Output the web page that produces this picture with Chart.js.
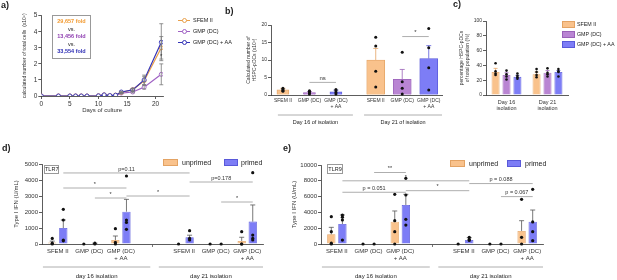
<!DOCTYPE html>
<html>
<head>
<meta charset="utf-8">
<script src="https://cdn.jsdelivr.net/npm/chart.js@4.4.0/dist/chart.umd.min.js"></script>
<style>
  body { margin: 0; background: #fff; font-family: "Liberation Sans", Arial, sans-serif; color: #222; }
  #fig { position: relative; width: 617px; height: 280px; overflow: hidden; }
  #fig canvas { position: absolute; }
  .t { position: absolute; white-space: nowrap; line-height: 1; }
  .panel { font-weight: bold; font-size: 9px; }
  .sw { position: absolute; box-sizing: border-box; border: 1px solid; }
  .ln { position: absolute; height: 1px; width: 12px; }
  .dot { position: absolute; width: 5px; height: 5px; box-sizing: border-box; border: 1px solid; border-radius: 50%; background: #fff; }
  .box { position: absolute; box-sizing: border-box; border: 1px solid #999; text-align: center; }
</style>
</head>
<body>
<div id="fig">
  <canvas id="chartA" width="172" height="124" style="left:0;top:0"></canvas>
  <canvas id="chartB" width="215" height="112" style="left:230px;top:15px"></canvas>
  <canvas id="chartC" width="172" height="105" style="left:445px;top:10px"></canvas>
  <canvas id="chartD" width="290" height="140" style="left:0;top:140px"></canvas>
  <canvas id="chartE" width="332" height="140" style="left:285px;top:140px"></canvas>

  <div class="t panel" style="left:1px;top:1px">a)</div>
  <div class="t panel" style="left:225px;top:7px">b)</div>
  <div class="t panel" style="left:453px;top:0px">c)</div>
  <div class="t panel" style="left:2px;top:144px">d)</div>
  <div class="t panel" style="left:283px;top:144px">e)</div>

  <!-- a) fold box -->
  <div class="box" style="left:52px;top:15px;width:39px;height:44px;font-size:5.5px;line-height:7.6px;padding-top:2px">
    <div style="color:#f29a30;font-weight:bold">29,657 fold</div>
    <div>vs.</div>
    <div style="color:#8e3db0;font-weight:bold">13,456 fold</div>
    <div>vs.</div>
    <div style="color:#2c2cb4;font-weight:bold">33,554 fold</div>
  </div>

  <!-- a) legend -->
  <div class="ln" style="left:178px;top:20px;background:#e9a04b"></div>
  <div class="dot" style="left:181.5px;top:18px;border-color:#e9a04b"></div>
  <div class="t" style="left:193px;top:18px;font-size:5.5px">SFEM II</div>
  <div class="ln" style="left:178px;top:31px;background:#a062c4"></div>
  <div class="dot" style="left:181.5px;top:29px;border-color:#a062c4"></div>
  <div class="t" style="left:193px;top:29px;font-size:5.5px">GMP (DC)</div>
  <div class="ln" style="left:178px;top:42px;background:#3434b8"></div>
  <div class="dot" style="left:181.5px;top:40px;border-color:#3434b8"></div>
  <div class="t" style="left:193px;top:40px;font-size:5.5px">GMP (DC) + AA</div>

  <!-- c) legend -->
  <div class="sw" style="left:562px;top:21px;width:13px;height:7px;background:#f9c28c;border-color:#e3a364"></div>
  <div class="t" style="left:577px;top:22px;font-size:5.3px">SFEM II</div>
  <div class="sw" style="left:562px;top:31px;width:13px;height:7px;background:#b985d3;border-color:#9a62b8"></div>
  <div class="t" style="left:577px;top:32px;font-size:5.3px">GMP (DC)</div>
  <div class="sw" style="left:562px;top:41px;width:13px;height:7px;background:#7d7df6;border-color:#5959d9"></div>
  <div class="t" style="left:577px;top:42px;font-size:5.3px">GMP (DC) + AA</div>

  <!-- d) legend + TLR7 -->
  <div class="sw" style="left:163px;top:159px;width:15px;height:7px;background:#f9c28c;border-color:#e3a364"></div>
  <div class="t" style="left:182px;top:159px;font-size:7px">unprimed</div>
  <div class="sw" style="left:224px;top:159px;width:14px;height:7px;background:#7d7df6;border-color:#5959d9"></div>
  <div class="t" style="left:241px;top:159px;font-size:7px">primed</div>
  <div class="box" style="left:44px;top:165px;width:15px;height:9px;font-size:5.5px;line-height:7px">TLR7</div>

  <!-- e) legend + TLR9 -->
  <div class="sw" style="left:450px;top:160px;width:15px;height:7px;background:#f9c28c;border-color:#e3a364"></div>
  <div class="t" style="left:469px;top:160px;font-size:7px">unprimed</div>
  <div class="sw" style="left:507px;top:160px;width:14px;height:7px;background:#7d7df6;border-color:#5959d9"></div>
  <div class="t" style="left:525px;top:160px;font-size:7px">primed</div>
  <div class="box" style="left:327px;top:164px;width:16px;height:10px;font-size:5.5px;line-height:8px">TLR9</div>
</div>

<script>
// ---- colours
const cOrange = '#f9c28c', cOrangeLine = '#e3a364';
const cPurple = '#b985d3', cPurpleLine = '#9a62b8';
const cBlue = '#7d7df6', cBlueLine = '#5959d9';

// ---- a) expansion curves (x10^6 cells)
const days = [0, 3, 5, 6, 7, 8, 10, 11, 12, 13, 14, 16, 18, 21];
const growthSfem = [0, 0, 0, 0, 0, 0, 0.01, 0.07, 0.03, 0.06, 0.22, 0.4, 0.95, 3.0];
const growthGmp = [0, 0, 0, 0, 0, 0, 0.01, 0.06, 0.02, 0.03, 0.18, 0.25, 0.55, 1.35];
const growthGmpAa = [0, 0, 0, 0, 0, 0, 0.01, 0.07, 0.03, 0.05, 0.25, 0.38, 1.0, 3.35];
const growthErrSfem = [0, 0, 0, 0, 0, 0, 0, 0, 0, 0, 0.03, 0.05, 0.25, 0.7];
const growthErrGmp = [0, 0, 0, 0, 0, 0, 0, 0, 0, 0, 0.03, 0.05, 0.12, 0.65];
const growthErrGmpAa = [0, 0, 0, 0, 0, 0, 0, 0, 0, 0, 0.04, 0.08, 0.3, 1.15];

// ---- b) HSPC-pDC numbers (x10^5)
const mediaLabels = ['SFEM II', 'GMP (DC)', ['GMP (DC)', '+ AA']];
const bPos16 = [1, 2, 3];
const bPos21 = [4.5, 5.5, 6.5];
const bDay16 = [1.5, 0.7, 0.9];
const bDay16Err = [0.4, 0.3, 0.5];
const bDay16Pts = [[1.9, 1.6, 1.3, 1.1], [1.2, 0.9, 0.6, 0.3], [1.6, 1.2, 0.7, 0.3]];
const bDay21 = [10.0, 4.5, 10.4];
const bDay21Err = [3.3, 2.8, 3.7];
const bDay21Pts = [[16.5, 14, 6.8, 2.3], [12.2, 3.8, 1.9, 0.3], [19, 13.5, 7.8, 1.4]];

// ---- c) percentage HSPC-pDCs
const cLabels = [['Day 16', 'isolation'], ['Day 21', 'isolation']];
const cSfem = [31, 28];
const cGmp = [27, 30];
const cGmpAa = [24.5, 31];
const cSfemErr = [5, 3];
const cGmpErr = [3, 3];
const cGmpAaErr = [2, 2];
const cSfemPts = [[43, 32, 29, 27], [35, 31, 27, 24]];
const cGmpPts = [[33, 28, 25, 21], [36, 30, 28, 25]];
const cGmpAaPts = [[29, 26, 24, 22], [35, 32, 31, 25]];

// ---- d) / e) type I IFN (U/mL)
const ifnLabels = ['SFEM II', 'GMP (DC)', ['GMP (DC)', '+ AA'], '', 'SFEM II', 'GMP (DC)', ['GMP (DC)', '+ AA']];

const tlr7Unprimed = [100, 0, 250, null, 0, 0, 190];
const tlr7UnprimedErr = [80, 0, 250, 0, 0, 0, 230];
const tlr7UnprimedPts = [[350, 50, 0], [0], [960, 100, 0], [], [0], [0], [770, 0, 0]];
const tlr7Primed = [1000, 30, 2020, null, 420, 0, 1400];
const tlr7PrimedErr = [500, 20, 770, 0, 130, 0, 1040];
const tlr7PrimedPts = [[2170, 1500, 250, 200], [50, 0], [4250, 1500, 1350, 920], [], [830, 350, 250], [0], [4460, 560, 350, 250]];

const tlr9Unprimed = [1230, 0, 2820, null, 0, 0, 1650];
const tlr9UnprimedErr = [880, 0, 1360, 0, 0, 0, 1300];
const tlr9UnprimedPts = [[3460, 1560, 100, 0], [0], [6290, 2950, 1560, 0], [], [0], [0], [5650, 850, 0]];
const tlr9Primed = [2530, 0, 4940, null, 500, 0, 2820];
const tlr9PrimedErr = [1140, 0, 1350, 0, 300, 0, 1480];
const tlr9PrimedPts = [[3670, 3400, 3040, 500], [0], [8310, 6200, 3120, 2400], [], [850, 600, 450], [0], [6920, 2800, 1560, 420]];

// significance brackets: a/b = x positions on the scale, v = height
const bSig = [{a: 2, b: 3, v: 3.6, t: 'ns'}, {a: 5.5, b: 6.5, v: 16.7, t: '*'}];
const tlr7Sig = [
  {a: 0.175, b: 4.175, v: 4440, t: 'p=0.11'},
  {a: 0.175, b: 2.175, v: 3500, t: '*'},
  {a: 1.175, b: 2.175, v: 2875, t: '*'},
  {a: 2.175, b: 4.175, v: 3000, t: '*'},
  {a: 4.175, b: 6.175, v: 3875, t: 'p=0.178'},
  {a: 5.175, b: 6.175, v: 2625, t: '*'}
];
const tlr9Sig = [
  {a: 1.175, b: 2.175, v: 9050, t: '**'},
  {a: 0.175, b: 4.175, v: 8000, t: '*'},
  {a: 0.175, b: 2.175, v: 6550, t: 'p = 0.051'},
  {a: 2.175, b: 4.175, v: 6750, t: '*'},
  {a: 4.175, b: 6.175, v: 7650, t: 'p = 0.088'},
  {a: 5.175, b: 6.175, v: 6000, t: 'p = 0.067'}
];

Chart.defaults.font.family = '"Liberation Sans", Arial, sans-serif';
Chart.defaults.color = '#333';

// error bars, dots, brackets and group labels drawn through the scales
const extras = {
  id: 'extras',
  afterDatasetsDraw(chart, args, o) {
    const {ctx, chartArea: area} = chart;
    const xs = chart.scales.x, ys = chart.scales.y;
    ctx.save();
    chart.data.datasets.forEach((ds, di) => {
      const meta = chart.getDatasetMeta(di);
      meta.data.forEach((el, i) => {
        const raw = ds.data[i];
        const val = raw !== null && typeof raw === 'object' ? raw.y : raw;
        if (val == null) return;
        const col = ds.errColor || (Array.isArray(ds.borderColor) ? ds.borderColor[i] : ds.borderColor);
        const err = ds.errs ? ds.errs[i] : 0;
        if (err) {
          const top = ys.getPixelForValue(val + err);
          const bot = o.sym ? ys.getPixelForValue(val - err) : el.y;
          const cap = o.cap || 2.5;
          ctx.strokeStyle = col;
          ctx.lineWidth = 0.8;
          ctx.beginPath();
          ctx.moveTo(el.x, top); ctx.lineTo(el.x, bot);
          ctx.moveTo(el.x - cap, top); ctx.lineTo(el.x + cap, top);
          if (o.sym) { ctx.moveTo(el.x - cap, bot); ctx.lineTo(el.x + cap, bot); }
          ctx.stroke();
        }
        const pts = ds.pts ? ds.pts[i] : null;
        if (pts) {
          ctx.fillStyle = '#111';
          pts.forEach(v => {
            ctx.beginPath();
            ctx.arc(el.x, ys.getPixelForValue(v), o.dot || 1.5, 0, Math.PI * 2);
            ctx.fill();
          });
        }
      });
    });
    (o.sig || []).forEach(s => {
      const y = ys.getPixelForValue(s.v);
      const x1 = xs.getPixelForValue(s.a), x2 = xs.getPixelForValue(s.b);
      if (x1 !== x2) {
        ctx.strokeStyle = '#999';
        ctx.lineWidth = 0.8;
        ctx.beginPath(); ctx.moveTo(x1, y); ctx.lineTo(x2, y); ctx.stroke();
      }
      ctx.fillStyle = '#333';
      ctx.font = (o.sigSize || 5.5) + 'px "Liberation Sans", Arial, sans-serif';
      ctx.textAlign = 'center';
      ctx.textBaseline = 'bottom';
      ctx.fillText(s.t, (x1 + x2) / 2, y - 1);
    });
    (o.groups || []).forEach(g => {
      const x1 = xs.getPixelForValue(g.a), x2 = xs.getPixelForValue(g.b);
      const yl = area.bottom + o.groupLine;
      ctx.strokeStyle = '#999';
      ctx.lineWidth = 0.8;
      ctx.beginPath(); ctx.moveTo(x1, yl); ctx.lineTo(x2, yl); ctx.stroke();
      ctx.fillStyle = '#222';
      ctx.font = (o.groupSize || 6) + 'px "Liberation Sans", Arial, sans-serif';
      ctx.textAlign = 'center';
      ctx.textBaseline = 'middle';
      ctx.fillText(g.t, (x1 + x2) / 2, area.bottom + o.groupText);
    });
    ctx.restore();
  }
};
Chart.register(extras);

const axisLine = {color: '#333', width: 0.8};
const yAxis = (min, max, step, width, title, titleSize, titlePad, tickSize) => ({
  min, max,
  ticks: {stepSize: step, font: {size: tickSize}, padding: 1, color: '#333', callback: v => String(v)},
  grid: {drawOnChartArea: false, tickLength: 3, color: '#333', lineWidth: 0.8},
  border: axisLine,
  title: {display: true, text: title, font: {size: titleSize}, padding: {top: titlePad, bottom: 0}, color: '#333'},
  afterFit: s => { s.width = width; }
});

const base = (padding, extra) => ({
  responsive: false,
  animation: false,
  layout: {padding},
  plugins: Object.assign({legend: {display: false}, tooltip: {enabled: false}}, {extras: extra})
});

// ---- a)
const lineSet = (label, ys, errs, col) => ({
  label,
  data: days.map((d, i) => ({x: d, y: ys[i]})),
  errs,
  borderColor: col,
  errColor: '#777',
  backgroundColor: '#fff',
  borderWidth: 1.2,
  pointRadius: 2,
  pointBorderWidth: 0.9,
  pointBackgroundColor: '#fff',
  tension: 0
});

new Chart(document.getElementById('chartA'), {
  type: 'line',
  data: {
    datasets: [
      lineSet('GMP (DC) + AA', growthGmpAa, growthErrGmpAa, '#3434b8'),
      lineSet('SFEM II', growthSfem, growthErrSfem, '#e9a04b'),
      lineSet('GMP (DC)', growthGmp, growthErrGmp, '#a062c4')
    ]
  },
  options: Object.assign(base({left: 0, top: 15.7, right: 9, bottom: 0},
    {sym: true, cap: 2, sig: [{a: 21, b: 21, v: 2.2, t: '*'}], sigSize: 6}), {
    scales: {
      x: {
        type: 'linear', min: 0, max: 21.3,
        ticks: {stepSize: 5, includeBounds: false, font: {size: 6.5}, padding: 1, color: '#333'},
        grid: {drawOnChartArea: false, tickLength: 3, color: '#333', lineWidth: 0.8},
        border: axisLine,
        title: {display: true, text: 'Days of culture', font: {size: 6}, padding: {top: 0, bottom: 10}, color: '#333'},
        afterFit: s => { s.height = 28; }
      },
      y: yAxis(0, 5, 1, 41.3, 'calculated number of total cells  (x10⁶)', 5, 22, 6.5)
    }
  })
});

// ---- b)
const bTickPos = bPos16.concat(bPos21);
const bTickLabels = mediaLabels.concat(mediaLabels);
const fills = [cOrange, cPurple, cBlue];
const lines = [cOrangeLine, cPurpleLine, cBlueLine];

new Chart(document.getElementById('chartB'), {
  type: 'bar',
  data: {
    datasets: [
      {label: 'Day 16', data: bPos16.map((x, i) => ({x, y: bDay16[i]})), errs: bDay16Err, pts: bDay16Pts,
       backgroundColor: fills, borderColor: lines, borderWidth: 0.8, barThickness: 12, grouped: false},
      {label: 'Day 21', data: bPos21.map((x, i) => ({x, y: bDay21[i]})), errs: bDay21Err, pts: bDay21Pts,
       backgroundColor: fills, borderColor: lines, borderWidth: 0.8, barThickness: 18, grouped: false}
    ]
  },
  options: Object.assign(base({left: 0, top: 10, right: 3, bottom: 0}, {
    dot: 1.5, sig: bSig, sigSize: 6,
    groups: [{a: 0.81, b: 3.64, t: 'Day 16 of isolation'}, {a: 4.06, b: 7.0, t: 'Day 21 of isolation'}],
    groupLine: 20, groupText: 27, groupSize: 5.5
  }), {
    scales: {
      x: {
        type: 'linear', min: 0.55, max: 7.0, offset: false,
        afterBuildTicks: s => { s.ticks = bTickPos.map(v => ({value: v})); },
        ticks: {autoSkip: false, maxRotation: 0, font: {size: 5}, padding: 1, color: '#333',
                callback: (v, i) => bTickLabels[i]},
        grid: {drawOnChartArea: false, tickLength: 2, color: 'transparent', offset: false},
        border: axisLine,
        afterFit: s => { s.height = 32; }
      },
      y: yAxis(0, 20, 5, 41, ['Calculated number of', 'HSPC-pDCs (x10⁵)'], 5, 16, 5)
    }
  })
});

// ---- c)
new Chart(document.getElementById('chartC'), {
  type: 'bar',
  data: {
    labels: cLabels,
    datasets: [
      {label: 'SFEM II', data: cSfem, errs: cSfemErr, pts: cSfemPts, backgroundColor: cOrange, borderColor: cOrangeLine, borderWidth: 0.8},
      {label: 'GMP (DC)', data: cGmp, errs: cGmpErr, pts: cGmpPts, backgroundColor: cPurple, borderColor: cPurpleLine, borderWidth: 0.8},
      {label: 'GMP (DC) + AA', data: cGmpAa, errs: cGmpAaErr, pts: cGmpAaPts, backgroundColor: cBlue, borderColor: cBlueLine, borderWidth: 0.8}
    ]
  },
  options: Object.assign(base({left: 0, top: 11, right: 49, bottom: 0}, {dot: 1.3, cap: 2}), {
    datasets: {bar: {categoryPercentage: 0.8, barPercentage: 0.73}},
    scales: {
      x: {
        ticks: {autoSkip: false, maxRotation: 0, font: {size: 5.5}, padding: 2, color: '#333'},
        grid: {drawOnChartArea: false, tickLength: 2, color: 'transparent'},
        border: axisLine,
        afterFit: s => { s.height = 20; }
      },
      y: yAxis(0, 100, 20, 41, ['percentage HSPC-pDCs', 'of total population (%)'], 5, 14, 5)
    }
  })
});

// ---- d) / e)
const ifnChart = (id, unprimed, uErr, uPts, primed, pErr, pPts, yMax, yStep, yWidth, titlePad, padding, sig) =>
  new Chart(document.getElementById(id), {
    type: 'bar',
    data: {
      labels: ifnLabels,
      datasets: [
        {label: 'unprimed', data: unprimed, errs: uErr, pts: uPts, backgroundColor: cOrange, borderColor: cOrangeLine, borderWidth: 0.8, errColor: '#555'},
        {label: 'primed', data: primed, errs: pErr, pts: pPts, backgroundColor: cBlue, borderColor: cBlueLine, borderWidth: 0.8, errColor: '#555'}
      ]
    },
    options: Object.assign(base(padding, {
      dot: 1.6, sig, sigSize: 5.5,
      groups: [{a: -0.47, b: 2.93, t: 'day 16 isolation'}, {a: 3.2, b: 6.5, t: 'day 21 isolation'}],
      groupLine: 23, groupText: 32, groupSize: 6
    }), {
      datasets: {bar: {categoryPercentage: 0.7, barPercentage: 0.75}},
      scales: {
        x: {
          ticks: {autoSkip: false, maxRotation: 0, font: {size: 6}, padding: 1, color: '#333'},
          grid: {drawOnChartArea: false, offset: false, tickLength: 3, lineWidth: 0.8,
                 color: c => c.index === 3 ? '#555' : 'transparent'},
          border: axisLine,
          afterFit: s => { s.height = 36; }
        },
        y: yAxis(0, yMax, yStep, yWidth, 'Type I IFN (U/mL)', 6, titlePad, 6)
      }
    })
  });

ifnChart('chartD', tlr7Unprimed, tlr7UnprimedErr, tlr7UnprimedPts, tlr7Primed, tlr7PrimedErr, tlr7PrimedPts,
  5000, 1000, 42, 12.4, {left: 0, top: 24, right: 27, bottom: 0}, tlr7Sig);
ifnChart('chartE', tlr9Unprimed, tlr9UnprimedErr, tlr9UnprimedPts, tlr9Primed, tlr9PrimedErr, tlr9PrimedPts,
  10000, 2000, 36, 5.4, {left: 0, top: 25, right: 74, bottom: 0}, tlr9Sig);
</script>
</body>
</html>
